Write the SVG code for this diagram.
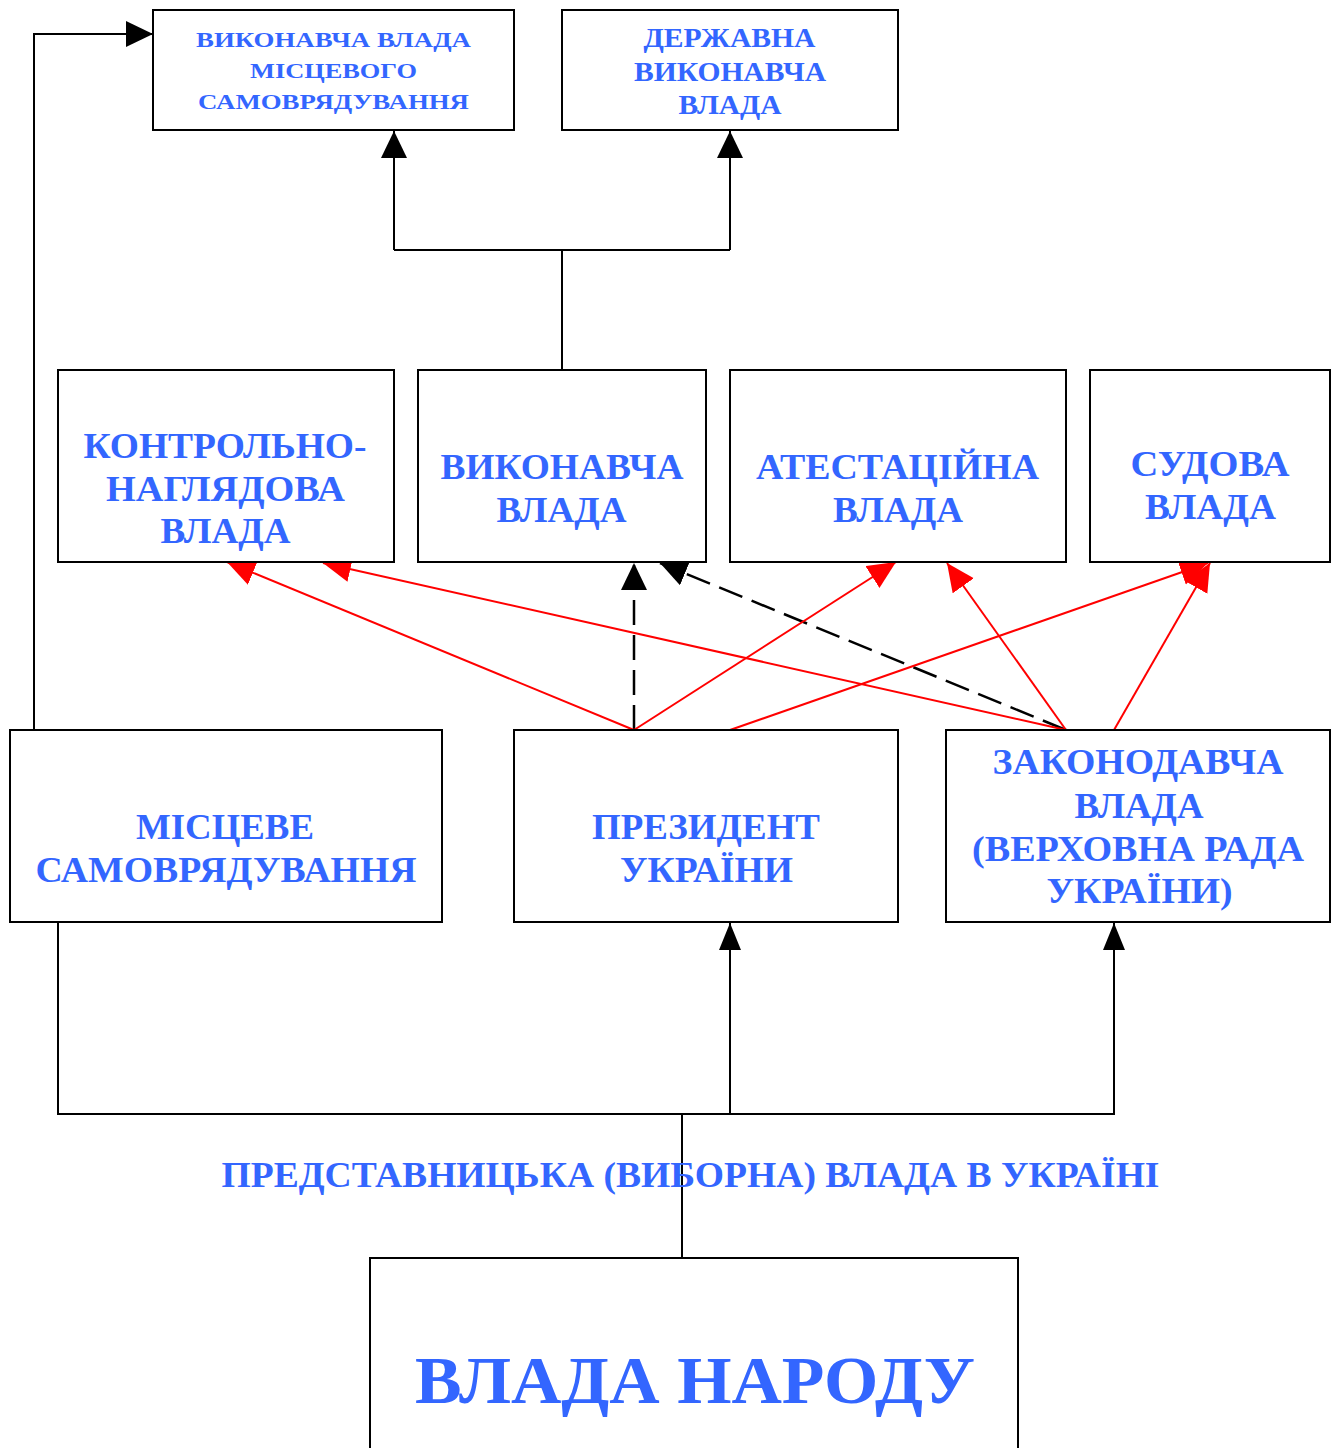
<svg xmlns="http://www.w3.org/2000/svg" width="1339" height="1448" viewBox="0 0 1339 1448">
<style>
.box{fill:#fff;stroke:#000;stroke-width:2}
.t{font-family:"Liberation Serif","Times New Roman",serif;font-weight:bold;fill:#3366FF;text-anchor:middle}
.s22{font-size:22px}.s27{font-size:27px}.s36{font-size:36px}.s68{font-size:68px}
.blk{fill:none;stroke:#000;stroke-width:2}
.dash{fill:none;stroke:#000;stroke-width:2.5;stroke-dasharray:25 10}
.red{fill:none;stroke:#FF0000;stroke-width:2}
</style>
<defs>
<marker id="ab" markerUnits="userSpaceOnUse" markerWidth="28" markerHeight="28" refX="27" refY="13" orient="auto"><path d="M0,0 L27,13 L0,26 z" fill="#000"/></marker>
<marker id="ab2" markerUnits="userSpaceOnUse" markerWidth="28" markerHeight="28" refX="27" refY="11" orient="auto"><path d="M0,0 L27,11 L0,22 z" fill="#000"/></marker>
<marker id="ar" markerUnits="userSpaceOnUse" markerWidth="30" markerHeight="28" refX="28" refY="13" orient="auto"><path d="M0,0 L28,13 L0,26 z" fill="#FF0000"/></marker>
</defs>
<g id="connectors">
<polyline class="blk" points="34,730 34,34 153,34" marker-end="url(#ab)"/>
<line class="blk" x1="562" y1="370" x2="562" y2="250"/>
<line class="blk" x1="394" y1="250" x2="730" y2="250"/>
<line class="blk" x1="394" y1="250" x2="394" y2="131" marker-end="url(#ab)"/>
<line class="blk" x1="730" y1="250" x2="730" y2="131" marker-end="url(#ab)"/>
<polyline class="blk" points="58,922 58,1114 1114,1114 1114,923" marker-end="url(#ab2)"/>
<line class="blk" x1="730" y1="1114" x2="730" y2="923" marker-end="url(#ab2)"/>
<line class="blk" x1="682" y1="1114" x2="682" y2="1258"/>
<line class="dash" x1="634" y1="730" x2="634" y2="563" marker-end="url(#ab)"/>
<line class="dash" x1="1066" y1="730" x2="660" y2="563" marker-end="url(#ab)"/>
<line class="red" x1="634" y1="730" x2="227" y2="562" marker-end="url(#ar)"/>
<line class="red" x1="634" y1="730" x2="896" y2="562" marker-end="url(#ar)"/>
<line class="red" x1="730" y1="730" x2="1208" y2="563" marker-end="url(#ar)"/>
<line class="red" x1="1066" y1="730" x2="323" y2="563" marker-end="url(#ar)"/>
<line class="red" x1="1066" y1="730" x2="947" y2="563" marker-end="url(#ar)"/>
<line class="red" x1="1114" y1="730" x2="1210" y2="563" marker-end="url(#ar)"/>
</g>
<g id="n-exec-local">
<rect class="box" x="153" y="10" width="361" height="120"/>
<text class="t s22" x="333.5" y="47" textLength="275" lengthAdjust="spacingAndGlyphs">ВИКОНАВЧА ВЛАДА</text>
<text class="t s22" x="333.5" y="78" textLength="167" lengthAdjust="spacingAndGlyphs">МІСЦЕВОГО</text>
<text class="t s22" x="333.5" y="109" textLength="271" lengthAdjust="spacingAndGlyphs">САМОВРЯДУВАННЯ</text>
</g>
<g id="n-exec-state">
<rect class="box" x="562" y="10" width="336" height="120"/>
<text class="t s27" x="729.5" y="47" textLength="172" lengthAdjust="spacingAndGlyphs">ДЕРЖАВНА</text>
<text class="t s27" x="730" y="81" textLength="192" lengthAdjust="spacingAndGlyphs">ВИКОНАВЧА</text>
<text class="t s27" x="730" y="114" textLength="103" lengthAdjust="spacingAndGlyphs">ВЛАДА</text>
</g>
<g id="n-control">
<rect class="box" x="58" y="370" width="336" height="192"/>
<text class="t s36" x="225" y="458" textLength="283" lengthAdjust="spacingAndGlyphs">КОНТРОЛЬНО-</text>
<text class="t s36" x="225.5" y="501" textLength="239" lengthAdjust="spacingAndGlyphs">НАГЛЯДОВА</text>
<text class="t s36" x="225.5" y="543" textLength="130" lengthAdjust="spacingAndGlyphs">ВЛАДА</text>
</g>
<g id="n-exec">
<rect class="box" x="418" y="370" width="288" height="192"/>
<text class="t s36" x="562" y="479" textLength="243" lengthAdjust="spacingAndGlyphs">ВИКОНАВЧА</text>
<text class="t s36" x="561.5" y="522" textLength="130" lengthAdjust="spacingAndGlyphs">ВЛАДА</text>
</g>
<g id="n-attest">
<rect class="box" x="730" y="370" width="336" height="192"/>
<text class="t s36" x="897.5" y="479" textLength="283" lengthAdjust="spacingAndGlyphs">АТЕСТАЦІЙНА</text>
<text class="t s36" x="898" y="522" textLength="130" lengthAdjust="spacingAndGlyphs">ВЛАДА</text>
</g>
<g id="n-court">
<rect class="box" x="1090" y="370" width="240" height="192"/>
<text class="t s36" x="1210" y="476" textLength="159" lengthAdjust="spacingAndGlyphs">СУДОВА</text>
<text class="t s36" x="1210.5" y="519" textLength="131" lengthAdjust="spacingAndGlyphs">ВЛАДА</text>
</g>
<g id="n-local">
<rect class="box" x="10" y="730" width="432" height="192"/>
<text class="t s36" x="225" y="839" textLength="178" lengthAdjust="spacingAndGlyphs">МІСЦЕВЕ</text>
<text class="t s36" x="226" y="882" textLength="381" lengthAdjust="spacingAndGlyphs">САМОВРЯДУВАННЯ</text>
</g>
<g id="n-president">
<rect class="box" x="514" y="730" width="384" height="192"/>
<text class="t s36" x="706" y="839" textLength="228" lengthAdjust="spacingAndGlyphs">ПРЕЗИДЕНТ</text>
<text class="t s36" x="706.5" y="882" textLength="173" lengthAdjust="spacingAndGlyphs">УКРАЇНИ</text>
</g>
<g id="n-legislative">
<rect class="box" x="946" y="730" width="384" height="192"/>
<text class="t s36" x="1138" y="774" textLength="291" lengthAdjust="spacingAndGlyphs">ЗАКОНОДАВЧА</text>
<text class="t s36" x="1139" y="818" textLength="129" lengthAdjust="spacingAndGlyphs">ВЛАДА</text>
<text class="t s36" x="1138" y="861" textLength="332" lengthAdjust="spacingAndGlyphs">(ВЕРХОВНА РАДА</text>
<text class="t s36" x="1139.5" y="903" textLength="186" lengthAdjust="spacingAndGlyphs">УКРАЇНИ)</text>
</g>
<g id="label-representative">
<text class="t s36" x="690.5" y="1187" textLength="938" lengthAdjust="spacingAndGlyphs">ПРЕДСТАВНИЦЬКА (ВИБОРНА) ВЛАДА В УКРАЇНІ</text>
</g>
<g id="n-people">
<rect class="box" x="370" y="1258" width="648" height="200"/>
<text class="t s68" x="695" y="1403" textLength="560" lengthAdjust="spacingAndGlyphs">ВЛАДА НАРОДУ</text>
</g>
</svg>
